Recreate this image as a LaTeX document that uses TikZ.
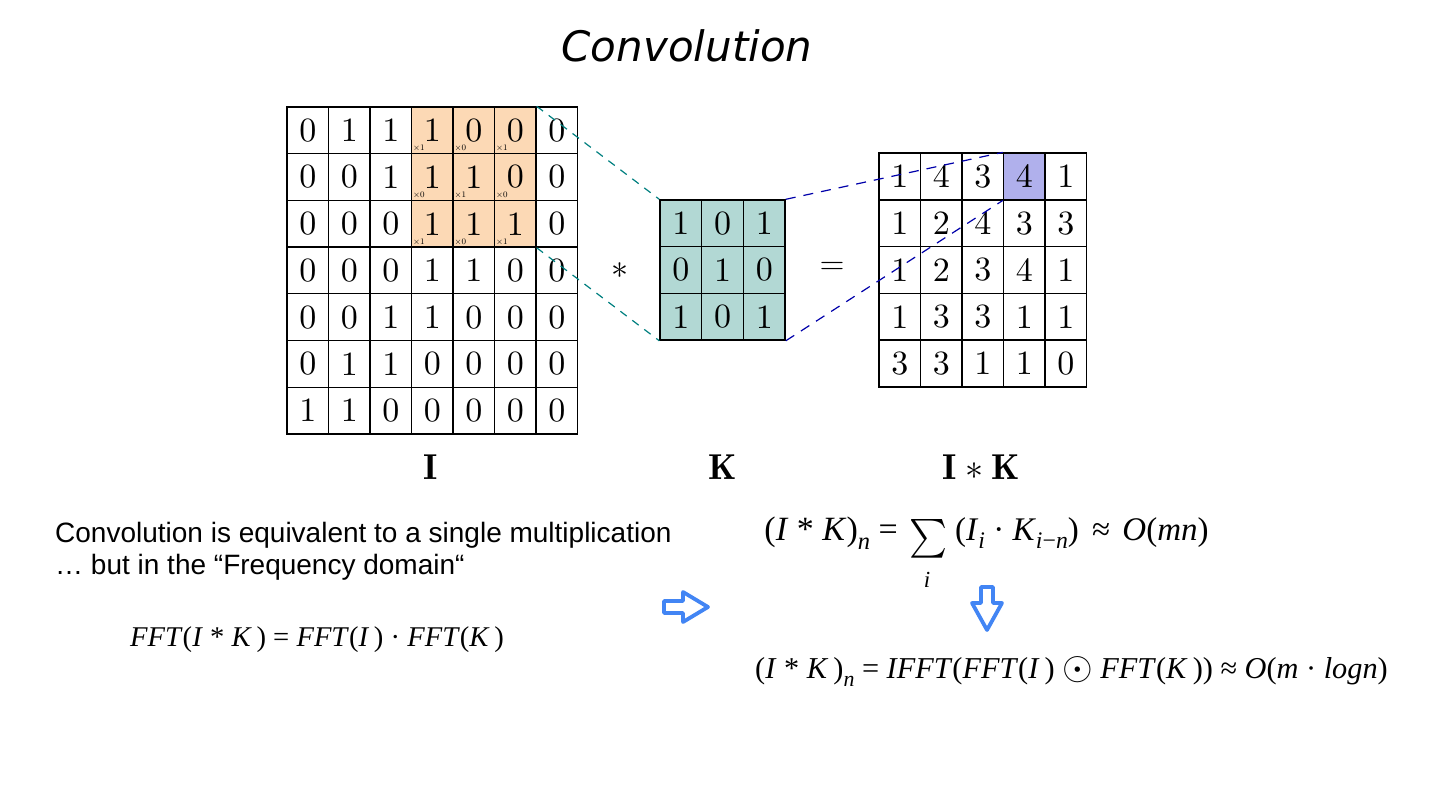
\RequirePackage{fix-cm}
\documentclass[tikz,border=0pt]{standalone}
\usepackage{fontspec}
\newfontfamily\tms{Liberation Serif}
\newfontfamily\arl{Liberation Sans}
\newfontfamily\hand{DejaVu Sans}
\definecolor{hlI}{RGB}{252,217,181}
\definecolor{hlK}{RGB}{178,216,212}
\definecolor{hlR}{RGB}{176,176,236}
\definecolor{tealdash}{RGB}{0,128,128}
\definecolor{navydash}{RGB}{0,0,170}
\definecolor{arrowblue}{RGB}{66,133,244}
\newcommand{\mi}[1]{\textit{#1}}
\newcommand{\sbs}[1]{\raisebox{-0.27em}{\scalebox{0.72}{#1}}}
\newcommand{\dg}[1]{{\fontsize{10}{12}\selectfont\scalebox{3.4}{#1}}}
\tikzset{
  cell/.style={draw=black, line width=1.4pt, minimum width=41.5pt, minimum height=46.7pt,
    inner sep=0pt, anchor=center},
  cellplain/.style={fill=white},
  cellI/.style={fill=hlI},
  cellK/.style={fill=hlK, minimum width=41.7pt},
  cellR/.style={fill=hlR},
  mult/.style={anchor=south west, inner sep=0pt, font=\fontsize{8.5}{8.5}\selectfont},
  op/.style={inner sep=0pt, font=\fontsize{34}{34}\selectfont},
  lab/.style={inner sep=0pt, font=\fontsize{36}{36}\selectfont},
  tdash/.style={draw=tealdash, line width=1.2pt, dash pattern=on 8pt off 7pt},
  ndash/.style={draw=navydash, line width=1.2pt, dash pattern=on 10pt off 8pt},
  blockarrow/.style={draw=arrowblue, line width=3.8pt, line join=round},
  txt/.style={inner sep=0pt, anchor=base west, font=\arl\fontsize{28}{28}\selectfont},
  frm/.style={inner sep=0pt, font=\tms\fontsize{#1}{#1}\selectfont},
}
\begin{document}
\begin{tikzpicture}[x=1pt,y=-1pt]
\useasboundingbox (0,0) rectangle (1440,810);
\fill[white] (0,0) rectangle (1440,810);

% title
\node[inner sep=0pt, anchor=base, font=\hand\itshape\fontsize{42}{42}\selectfont] (title) at (687,62) {Convolution};

% input grid I
\foreach \row [count=\r from 0] in {{0,1,1,1,0,0,0},{0,0,1,1,1,0,0},{0,0,0,1,1,1,0},{0,0,0,1,1,0,0},{0,0,1,1,0,0,0},{0,1,1,0,0,0,0},{1,1,0,0,0,0,0}}{
  \foreach \v [count=\c from 0] in \row {
    \def\sty{cellplain}
    \ifnum\r<3 \ifnum\c>2 \ifnum\c<6 \def\sty{cellI}\fi\fi\fi
    \node[cell,\sty] (I-\r-\c) at ({287+41.5*(\c+0.5)},{107+46.7*(\r+0.5)}) {\dg{\v}};
  }
}
% kernel multipliers
\foreach \r/\c/\w in {0/3/1,0/4/0,0/5/1,1/3/0,1/4/1,1/5/0,2/3/1,2/4/0,2/5/1}
  \node[mult] (m-\r-\c) at ([shift={(2,-2.5)}]I-\r-\c.south west) {$\times\w$};

% kernel K
\foreach \row [count=\r from 0] in {{1,0,1},{0,1,0},{1,0,1}}{
  \foreach \v [count=\c from 0] in \row {
    \node[cell,cellK] (K-\r-\c) at ({660+41.7*(\c+0.5)},{200+46.7*(\r+0.5)}) {\dg{\v}};
  }
}

% result grid
\foreach \row [count=\r from 0] in {{1,4,3,4,1},{1,2,4,3,3},{1,2,3,4,1},{1,3,3,1,1},{3,3,1,1,0}}{
  \foreach \v [count=\c from 0] in \row {
    \def\sty{cellplain}
    \ifnum\r=0 \ifnum\c=3 \def\sty{cellR}\fi\fi
    \node[cell,\sty] (R-\r-\c) at ({879+41.5*(\c+0.5)},{153+46.8*(\r+0.5)}) {\dg{\v}};
  }
}

% dashed projection lines
\draw[tdash] (I-0-5.north east) -- (K-0-0.north west);
\draw[tdash] (I-2-5.south east) -- (K-2-0.south west);
\draw[ndash] (K-0-2.north east) -- (R-0-3.north west);
\draw[ndash] (K-2-2.south east) -- (R-0-3.south west);

% operators
\node[op] (star) at (620,271) {$\ast$};
\node[op] (eq) at (832,268) {$=$};

% labels
\node[lab] (labI) at (431,467) {$\mathbf{I}$};
\node[lab] (labK) at (723,467) {$\mathbf{K}$};
\node[lab] (labR) at (981,467) {$\mathbf{I}\ast\mathbf{K}$};

% explanation text
\node[txt] (t1) at (55,542) {Convolution is equivalent to a single multiplication};
\node[txt] (t2) at (55,574) {… but in the “Frequency domain“};

% formula 1
\node[frm=28.6, anchor=base west] (f1) at (130,646)
  {\mi{FFT}(\mi{I} * \mi{K}\,) = \mi{FFT}(\mi{I}\,) · \mi{FFT}(\mi{K}\,)};

% formula 2
\node[frm=34, anchor=base east] (f2a) at (898,540)
  {(\mi{I} * \mi{K})\sbs{\mi{n}} =};
\node[inner sep=0pt] (f2s) at (928,539) {\resizebox{38pt}{29pt}{$\sum$}};
\node[frm=23, anchor=base] (f2i) at (927,587) {\mi{i}};
\node[frm=33, anchor=base west] (f2b) at (955,540)
  {(\mi{I}\sbs{\mi{i}} · \mi{K}\sbs{\mi{i}−\mi{n}})\hspace{5pt} ≈ \hspace{4pt}\mi{O}(\mi{mn})};

% formula 3
\node[frm=30.3, anchor=base west] (f3) at (755,678)
  {(\mi{I} * \mi{K}\,)\sbs{\mi{n}} = \mi{IFFT}(\mi{FFT}(\mi{I}\,) \raisebox{-1pt}{\scalebox{1.3}{$\odot$}} \mi{FFT}(\mi{K}\,)) ≈ \mi{O}(\mi{m} · \mi{logn})};

% block arrows
\draw[blockarrow] (664,601) -- (683,601) -- (683,592) -- (708,607) -- (683,622) -- (683,613) -- (664,613) -- cycle;
\draw[blockarrow] (981,587) -- (993,587) -- (993,603) -- (1002,603) -- (987,630) -- (972,603) -- (981,603) -- cycle;
\end{tikzpicture}
\end{document}
